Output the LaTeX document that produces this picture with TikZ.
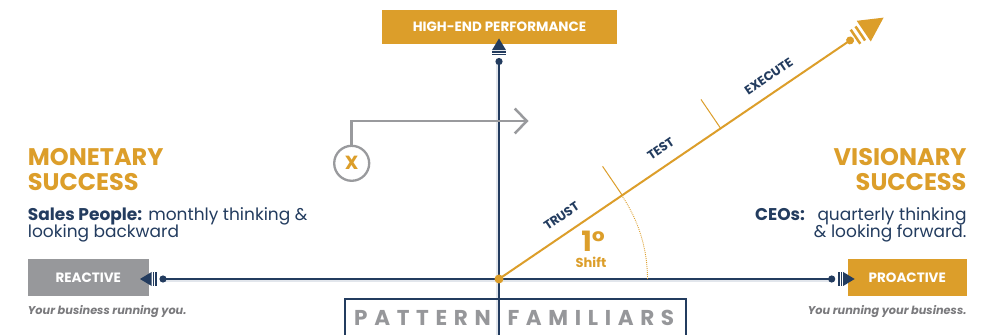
\documentclass[tikz,border=0pt]{standalone}
\usepackage{fontspec}
\setmainfont{Poppins}
\usetikzlibrary{arrows.meta,calc}

\definecolor{gold}{RGB}{220,158,42}
\definecolor{navy}{RGB}{35,60,95}
\definecolor{boxgray}{RGB}{151,152,155}
\definecolor{linegray}{RGB}{153,154,157}
\definecolor{textgray}{RGB}{150,151,154}
\definecolor{notegray}{RGB}{122,122,125}
\definecolor{haze}{RGB}{226,230,236}

\tikzset{
  axisline/.style={navy,line width=2pt},
  axisshadow/.style={haze,line width=2pt},
  goldline/.style={gold,line width=2pt},
  tickline/.style={gold,line width=1pt},
  labelbox/.style={inner sep=0pt,text=white,font=\fontsize{13.5}{14}\selectfont\bfseries},
  head/.style={inner sep=0pt,text=gold,font=\fontsize{24}{25}\selectfont\bfseries},
  body/.style={inner sep=0pt,text=navy,font=\fontsize{17}{17}\selectfont},
  note/.style={inner sep=0pt,text=notegray,font=\fontsize{11.3}{12}\selectfont\bfseries\itshape},
  steplabel/.style={inner sep=0pt,text=navy,font=\fontsize{12.5}{12.5}\selectfont\bfseries,rotate=34.2},
  pfword/.style={inner sep=0pt,text=textgray,font=\fontsize{21.5}{21.5}\selectfont\bfseries\addfontfeature{LetterSpace=31}},
  axis tip/.pic={
    \fill (0,0) circle (3.6);
    \fill (6.3,-7) rectangle (7.9,7);
    \fill (8.9,-7) rectangle (10.4,7);
    \fill (11.4,-7) -- (23,0) -- (11.4,7) -- cycle;
  },
}

\begin{document}
\begin{tikzpicture}[x=1pt,y=1pt]
\useasboundingbox (0,0) rectangle (989,335);
\fill[white] (0,0) rectangle (989,335);

% key points of the axes
\coordinate (O) at (499,56);
\coordinate (topend) at (499,273.5);
\coordinate (axbottom) at (499,0);
\coordinate (leftend) at (163,56);
\coordinate (rightend) at (831.7,56);

% soft shadows under the axes
\draw[axisshadow] ($(axbottom)+(-2,0)$) -- ($(topend)+(-2,0)$);
\draw[axisshadow] ($(leftend)+(0,-2)$) -- ($(rightend)+(0,-2)$);

% label boxes
\node[labelbox,fill=gold,minimum width=235pt,minimum height=34.3pt] (hep) at (499.5,307.8) {HIGH-END PERFORMANCE};
\node[labelbox,fill=boxgray,minimum width=121pt,minimum height=37pt] (reactive) at (88.3,57.5) {REACTIVE};
\node[labelbox,fill=gold,minimum width=119pt,minimum height=37pt] (proactive) at (907.3,57.5) {PROACTIVE};

% bottom frame with title
\draw[navy,line width=2pt] (345,0) -- (345,36) -- (685.7,36) -- (685.7,0);
\node[pfword,anchor=base west] (pf1) at (354,9.3) {PATTERN};
\node[pfword,anchor=base west] (pf2) at (507.3,9.3) {FAMILIARS};

% axes
\draw[axisline] (axbottom) -- (topend);
\draw[axisline] (leftend) -- (rightend);
\pic[navy,rotate=90] at (topend) {axis tip};
\pic[navy,rotate=180] at (leftend) {axis tip};
\pic[navy] at (rightend) {axis tip};

% angle arc
\draw[gold,line width=0.9pt,dash pattern=on 0.9pt off 1.1pt]
  ($(O)+(148.5,0)$) arc[start angle=0,end angle=34.2,radius=148.5];

% the shifted direction with its stages
\begin{scope}[shift={(O)},rotate=34.2]
  \coordinate (dend) at (424.5,0);
  \draw[goldline] (0,0) -- (dend);
  \draw[tickline] (149,0) -- (149,35);
  \draw[tickline] (268,0) -- (268,35);
  \fill[gold] (dend) circle (4);
  \fill[gold] (429.8,-8.5) rectangle (432.3,8.5);
  \fill[gold] (435.6,-8.5) rectangle (438.1,8.5);
  \fill[gold] (441,-12.5) -- (465,0) -- (441,12.5) -- cycle;
  \node[steplabel] (trust) at (87,17) {TRUST};
  \node[steplabel] (test) at (207,17) {TEST};
  \node[steplabel] (execute) at (337,16) {EXECUTE};
\end{scope}
\fill[gold] (O) circle (4.5);

% angle label
\node[inner sep=0pt,text=gold,font=\fontsize{28}{28}\selectfont\bfseries,anchor=base] (deg) at (593,83.3) {1°};
\node[inner sep=0pt,text=gold,font=\fontsize{13}{13}\selectfont\bfseries,anchor=base] (shift) at (591,67.3) {Shift};

% marker with its bent arrow
\node[circle,draw=linegray,line width=2.3pt,minimum size=35pt,inner sep=0pt,
      text=gold,font=\fontsize{19}{19}\selectfont\bfseries] (xc) at (351.7,171.7) {X};
\coordinate (gtip) at (528.5,214);
\draw[linegray,line width=2.5pt,-{Straight Barb[length=12pt,width=25pt]}] (xc.north) |- (gtip);

% left side texts
\node[head,anchor=base west] (mon1) at (27.7,169.3) {MONETARY};
\node[head,anchor=base west] (mon2) at (27.7,144) {SUCCESS};
\node[body,anchor=base west] (sp1) at (27.7,114) {\textbf{Sales People:} monthly thinking \&};
\node[body,anchor=base west] (sp2) at (27.7,97.3) {looking backward};
\node[note,anchor=base west] (ln) at (27.7,20) {Your business running you.};

% right side texts
\node[head,anchor=base east] (vis1) at (966.7,169.3) {VISIONARY};
\node[head,anchor=base east] (vis2) at (966.7,144) {SUCCESS};
\node[body,anchor=base west] (ceo) at (755,114) {\textbf{CEOs:}};
\node[body,anchor=base east] (q1) at (966.7,114) {quarterly thinking};
\node[body,anchor=base east] (q2) at (966.7,97.3) {\& looking forward.};
\node[note,anchor=base east] (rn) at (966.7,20) {You running your business.};
\end{tikzpicture}
\end{document}
